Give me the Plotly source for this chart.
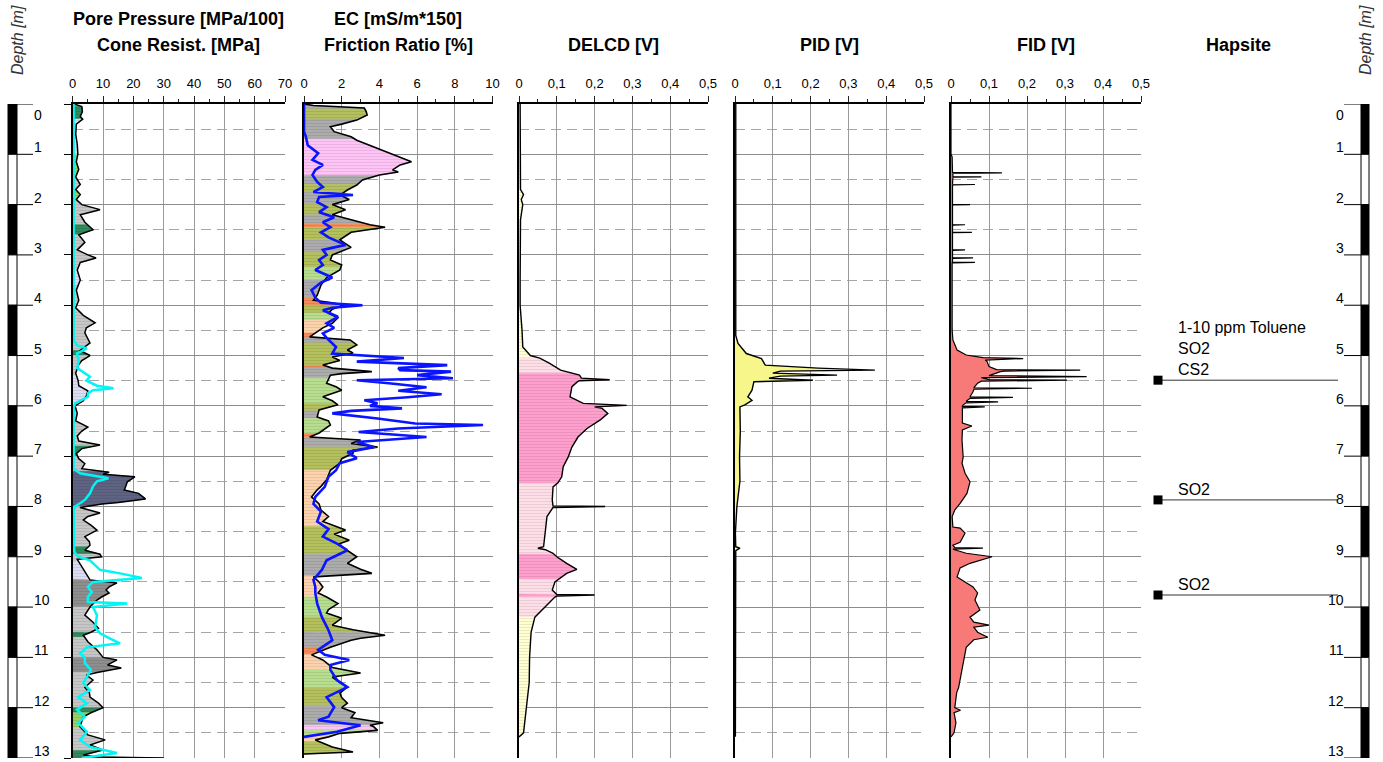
import numpy as np
import plotly.graph_objects as go

W, H = 1383, 762

# ---------------- DATA ----------------
depth_ticks = list(range(0, 14))

# Cone resistance [MPa]
qc_depth = [0.0, 0.05, 0.15, 0.25, 0.3, 0.4, 0.6, 0.8, 1.0, 1.15, 1.3, 1.45, 1.6, 1.7, 1.8, 1.9, 2.0, 2.1, 2.2, 2.35,
            2.5, 2.6, 2.75, 2.9, 3.0, 3.06, 3.15, 3.3, 3.5, 3.7, 3.9, 4.05, 4.2, 4.35, 4.45, 4.55, 4.75, 4.9, 5.0, 5.1,
            5.2, 5.35, 5.5, 5.6, 5.7, 5.8, 5.9, 6.0, 6.15, 6.3, 6.42, 6.5, 6.6, 6.7, 6.78, 6.85, 6.95, 7.05, 7.15, 7.25,
            7.32, 7.36, 7.41, 7.51, 7.6, 7.67, 7.74, 7.85, 7.92, 7.95, 8.02, 8.13, 8.2, 8.27, 8.37, 8.47, 8.6, 8.7, 8.77,
            8.87, 8.95, 9.0, 9.05, 9.46, 9.52, 9.6, 9.66, 9.72, 9.8, 9.86, 10.0, 10.16, 10.3, 10.42, 10.5, 10.56, 10.69,
            10.85, 11.0, 11.05, 11.15, 11.21, 11.3, 11.35, 11.45, 11.6, 11.7, 11.79, 11.91, 12.0, 12.1, 12.18, 12.38,
            12.54, 12.64, 12.74, 12.84, 12.94, 12.98, 13.0]
qc_val = [0.5, 3.0, 3.2, 2.5, 3.3, 1.2, 1.0, 1.5, 1.7, 1.2, 2.0, 1.0, 2.5, 1.0, 2.5, 1.2, 3.0, 9.0, 2.5, 4.0,
          6.7, 2.0, 4.0, 1.5, 5.0, 7.7, 2.5, 1.5, 2.5, 1.2, 2.0, 1.0, 3.5, 7.4, 4.5, 4.0, 5.7, 2.4, 5.7, 3.0,
          1.8, 1.0, 1.8, 2.0, 5.0, 4.5, 3.5, 0.8, 1.5, 1.0, 5.0, 3.0, 1.5, 2.0, 9.0, 3.0, 1.2, 2.0, 4.0, 3.0,
          12.0, 10.0, 20.5, 18.0, 17.5, 17.0, 21.7, 24.0, 15.0, 9.6, 2.4, 9.0, 5.0, 3.5, 6.0, 8.0, 4.0, 5.5, 5.7,
          4.0, 9.0, 9.5, 1.5, 5.7, 14.6, 12.0, 11.0, 12.0, 9.5, 8.0, 5.7, 4.0, 6.7, 8.5, 6.0, 3.5, 5.0,
          8.0, 10.0, 14.6, 11.5, 16.0, 8.0, 4.5, 6.7, 4.0, 5.5, 5.7, 8.5, 10.0, 6.0, 3.5, 2.4,
          5.0, 10.7, 5.7, 10.0, 3.5, 8.0, 30.0]

# Pore pressure [MPa/100]
u_depth = [0.0, 4.7, 4.8, 4.86, 4.96, 5.1, 5.25, 5.35, 5.42, 5.5, 5.6, 5.65, 5.69, 5.75, 5.82, 5.88, 5.95, 6.05,
           7.25, 7.34, 7.44, 7.5, 7.6, 7.74, 7.87, 8.0, 8.1, 8.9, 9.0, 9.07, 9.26, 9.33, 9.42, 9.5, 9.6, 9.7, 9.8,
           9.9, 9.93, 10.0, 10.16, 10.4, 10.52, 10.62, 10.72, 10.8, 10.92, 11.0, 11.11, 11.25, 11.39, 11.51, 11.65,
           11.79, 11.91, 12.04, 12.18, 12.3, 12.48, 12.64, 12.78, 12.9, 13.0]
u_val = [0.3, 0.3, 1.5, 4.7, 1.4, 2.0, 1.5, 4.0, 5.7, 4.5, 8.0, 13.4, 6.7, 5.0, 5.0, 3.0, 0.8, 0.3,
         0.3, 2.4, 11.8, 8.0, 6.7, 5.7, 4.0, 0.8, 0.3, 0.5, 1.8, 5.7, 9.0, 15.6, 22.8, 6.7, 5.0, 6.3, 5.0,
         5.0, 18.0, 6.7, 8.0, 7.4, 9.0, 12.2, 15.6, 4.7, 2.4, 4.0, 4.0, 6.0, 4.7, 3.5, 5.7,
         1.8, 4.7, 1.4, 4.0, 1.8, 4.7, 2.4, 5.7, 14.6, 3.0]

# Friction ratio [%]
fr_depth = [0.0, 0.03, 0.08, 0.15, 0.22, 0.32, 0.4, 0.45, 0.55, 0.65, 0.72, 0.85, 0.98, 1.05, 1.15, 1.21, 1.31,
            1.35, 1.41, 1.51, 1.61, 1.71, 1.81, 1.9, 2.0, 2.1, 2.2, 2.3, 2.4, 2.45, 2.55, 2.7, 2.85, 3.0, 3.1, 3.2,
            3.3, 3.45, 3.6, 3.8, 3.9, 3.95, 4.0, 4.08, 4.16, 4.25, 4.36, 4.45, 4.53, 4.63, 4.69, 4.79, 4.89, 4.95,
            5.03, 5.1, 5.19, 5.25, 5.32, 5.36, 5.39, 5.55, 5.62, 5.69, 5.82, 5.9, 5.98, 6.08, 6.22, 6.3, 6.38, 6.54,
            6.62, 6.68, 6.75, 6.82, 6.88, 6.94, 7.05, 7.14, 7.28, 7.47, 7.6, 7.67, 7.81, 7.95, 8.07, 8.2, 8.3, 8.4,
            8.47, 8.55, 8.67, 8.75, 8.87, 9.0, 9.13, 9.25, 9.33, 9.38, 9.4, 9.5, 9.6, 9.72, 9.8, 9.93, 10.05, 10.12,
            10.22, 10.36, 10.45, 10.56, 10.62, 10.66, 10.8, 10.95, 11.05, 11.2, 11.31, 11.39, 11.5, 11.59, 11.71,
            11.8, 11.91, 12.0, 12.1, 12.2, 12.25, 12.3, 12.35, 12.38, 12.45, 12.51, 12.58, 12.64, 12.78, 12.88, 12.92]
fr_val = [0.0, 0.5, 3.2, 3.3, 3.35, 2.8, 2.0, 1.4, 1.6, 2.5, 2.8, 3.7, 4.6, 5.1, 5.7, 5.1, 4.7,
          5.0, 4.0, 3.1, 2.8, 2.3, 1.9, 2.4, 1.5, 2.2, 1.5, 2.5, 3.5, 4.3, 2.5, 1.9, 2.5, 1.5, 1.4, 2.0,
          1.9, 1.2, 0.9, 0.7, 0.5, 1.5, 2.1, 1.5, 1.3, 1.8, 1.5, 1.0, 0.7, 0.3, 2.45, 2.8, 2.3, 2.6,
          1.5, 1.9, 1.0, 1.5, 3.6, 2.0, 1.4, 1.2, 1.7, 2.0, 1.0, 1.5, 1.8, 0.8, 0.7, 1.3, 1.4, 0.8,
          0.3, 3.0, 2.5, 3.9, 2.6, 2.6, 2.0, 1.9, 1.4, 1.2, 0.9, 0.7, 0.4, 0.8, 0.9, 1.3, 1.0, 1.7,
          2.2, 1.6, 2.4, 1.8, 2.3, 2.8, 2.3, 3.0, 3.6, 1.0, 0.5, 0.8, 1.0, 0.75, 1.2, 1.8, 1.3, 1.2,
          2.0, 1.5, 2.6, 4.3, 3.0, 2.5, 1.4, 0.4, 1.0, 1.5, 3.0, 1.5, 1.9, 2.3, 1.9,
          2.0, 2.3, 2.0, 2.7, 2.5, 3.4, 4.2, 3.5, 3.7, 3.9, 1.9, 1.3, 0.6, 1.5, 2.6, 0.0]

# EC [mS/m*150]
ec_depth = [0.0, 0.55, 0.65, 0.82, 0.98, 1.11, 1.21, 1.31, 1.41, 1.55, 1.65, 1.75, 1.81, 1.85, 1.95, 2.05, 2.15,
            2.25, 2.35, 2.45, 2.55, 2.65, 2.8, 2.9, 3.0, 3.1, 3.2, 3.3, 3.45, 3.55, 3.7, 3.85, 3.95, 4.0, 4.05, 4.1,
            4.23, 4.36, 4.45, 4.56, 4.65, 4.73, 4.83, 4.96, 5.05, 5.12, 5.19, 5.25, 5.29, 5.32, 5.39, 5.45, 5.49,
            5.55, 5.63, 5.7, 5.77, 5.83, 5.89, 5.95, 6.0, 6.05, 6.1, 6.15, 6.25, 6.35, 6.38, 6.45, 6.52, 6.62, 6.72,
            6.82, 6.92, 7.04, 7.14, 7.28, 7.41, 7.61, 7.81, 7.95, 8.1, 8.3, 8.45, 8.6, 8.75, 8.87, 9.0, 9.07, 9.26,
            9.46, 9.6, 9.72, 9.93, 10.2, 10.46, 10.66, 10.85, 10.95, 11.05, 11.15, 11.25, 11.45, 11.59, 11.79,
            11.99, 12.18, 12.25, 12.35, 12.48, 12.52, 12.58]
ec_val = [0.0, 0.0, 0.1, 0.2, 0.75, 0.45, 1.0, 0.6, 0.45, 0.7, 1.0, 0.5, 2.6, 0.8, 0.7, 1.2, 0.8,
          1.6, 1.0, 1.4, 0.9, 1.3, 2.2, 1.0, 1.2, 0.8, 1.0, 0.6, 1.5, 0.9, 0.4, 0.6, 0.9, 3.1, 1.5, 1.0,
          1.8, 1.2, 1.6, 1.0, 1.2, 1.4, 1.7, 1.5, 5.3, 2.8, 7.6, 5.0, 5.1, 7.8, 6.0, 7.9, 2.8,
          4.5, 6.5, 5.0, 7.3, 5.5, 3.2, 3.9, 3.5, 5.2, 2.5, 1.5, 3.9, 5.9, 9.5, 5.0, 2.9, 6.5, 2.8,
          3.7, 2.3, 2.8, 1.9, 1.7, 1.3, 1.1, 0.6, 0.5, 0.9, 0.7, 1.3, 1.0, 1.8, 2.3, 1.6, 1.2, 0.95,
          0.5, 0.6, 0.6, 0.7, 0.95, 1.3, 1.5, 0.75, 1.1, 2.4, 1.4, 1.4, 1.75, 2.3, 1.2,
          1.6, 1.3, 0.75, 3.0, 1.75, 1.0, 0.0]

# DELCD [V]
delcd_depth = [0.0, 1.7, 1.8, 1.9, 2.0, 2.3, 3.5, 4.0, 4.5, 4.83, 5.0, 5.05, 5.15, 5.29, 5.39, 5.45, 5.48, 5.5,
               5.52, 5.62, 5.82, 5.95, 5.99, 6.02, 6.05, 6.15, 6.28, 6.45, 6.62, 6.82, 7.02, 7.21, 7.41, 7.53, 7.61,
               7.87, 7.99, 8.0, 8.02, 8.2, 8.47, 8.8, 8.83, 8.86, 8.93, 9.0, 9.13, 9.25, 9.33, 9.5, 9.66, 9.75,
               9.76, 9.78, 9.8, 10.06, 10.2, 10.5, 11.0, 11.5, 12.0, 12.3, 12.5, 12.58]
delcd_val = [0.003, 0.004, 0.012, 0.006, 0.01, 0.004, 0.003, 0.003, 0.008, 0.01, 0.03, 0.055, 0.08, 0.11, 0.16,
             0.165, 0.24, 0.16, 0.155, 0.14, 0.135, 0.17, 0.285, 0.2, 0.22, 0.235, 0.215, 0.18, 0.156, 0.14, 0.13,
             0.117, 0.113, 0.103, 0.09, 0.088, 0.09, 0.228, 0.09, 0.074, 0.07, 0.065, 0.05, 0.07, 0.09, 0.1, 0.126,
             0.153, 0.126, 0.095, 0.088, 0.1, 0.2, 0.1, 0.095, 0.06, 0.042, 0.032, 0.028, 0.027, 0.02, 0.014,
             0.012, 0.0]

# PID [V]
pid_depth = [0.0, 4.6, 4.76, 4.96, 5.06, 5.19, 5.25, 5.29, 5.31, 5.35, 5.39, 5.41, 5.45, 5.49, 5.52, 5.69, 5.82,
             5.89, 5.98, 6.02, 6.5, 7.0, 7.5, 8.0, 8.53, 8.8, 8.83, 8.88, 12.58]
pid_val = [0.002, 0.002, 0.008, 0.03, 0.07, 0.08, 0.22, 0.37, 0.12, 0.1, 0.27, 0.12, 0.09, 0.206, 0.05, 0.045,
           0.034, 0.045, 0.026, 0.013, 0.014, 0.012, 0.013, 0.005, 0.001, 0.002, 0.013, 0.002, 0.001]

# FID [V]
fid_depth = [0.0, 1.0, 1.05, 1.36, 1.37, 1.378, 1.445, 1.45, 1.458, 1.595, 1.6, 1.608, 1.995, 2.0, 2.008, 2.395,
             2.4, 2.408, 2.545, 2.55, 2.558, 2.895, 2.9, 2.908, 3.055, 3.06, 3.068, 3.145, 3.15, 3.158, 4.0, 4.49,
             4.69, 4.89, 4.99, 5.04, 5.06, 5.09, 5.12, 5.22, 5.28, 5.29, 5.31, 5.32, 5.4, 5.42, 5.44, 5.48, 5.49,
             5.51, 5.55, 5.64, 5.65, 5.67, 5.72, 5.82, 5.83, 5.85, 5.91, 5.92, 5.94, 5.98, 6.01, 6.02, 6.04, 6.08,
             6.34, 6.4, 6.48, 6.68, 7.02, 7.14, 7.34, 7.51, 7.74, 7.94, 8.07, 8.2, 8.41, 8.43, 8.53, 8.71, 8.77,
             8.82, 8.83, 8.85, 8.93, 9.0, 9.13, 9.22, 9.4, 9.5, 9.6, 9.72, 9.86, 10.06, 10.2, 10.3, 10.36, 10.4,
             10.5, 10.6, 10.65, 10.8, 11.0, 11.3, 11.6, 11.7, 12.0, 12.05, 12.1, 12.3, 12.5, 12.58]
fid_val = [0.0, 0.0, 0.003, 0.004, 0.134, 0.005, 0.005, 0.08, 0.005, 0.004, 0.063, 0.004, 0.004, 0.05, 0.004, 0.004,
           0.037, 0.004, 0.004, 0.055, 0.004, 0.004, 0.037, 0.004, 0.004, 0.058, 0.004, 0.004, 0.063, 0.003, 0.003,
           0.003, 0.005, 0.016, 0.04, 0.084, 0.19, 0.09, 0.095, 0.1, 0.12, 0.34, 0.14, 0.13, 0.1, 0.357, 0.08,
           0.1, 0.305, 0.08, 0.07, 0.06, 0.213, 0.06, 0.058, 0.05, 0.163, 0.05, 0.04, 0.124, 0.04, 0.032, 0.03,
           0.089, 0.03, 0.03, 0.03, 0.055, 0.03, 0.029, 0.032, 0.029, 0.037, 0.05, 0.042, 0.024, 0.01, 0.003,
           0.005, 0.024, 0.037, 0.024, 0.005, 0.01, 0.084, 0.005, 0.04, 0.108, 0.05, 0.024, 0.016, 0.037, 0.058,
           0.07, 0.063, 0.076, 0.05, 0.06, 0.1, 0.06, 0.07, 0.097, 0.06, 0.04, 0.035, 0.028, 0.02, 0.015, 0.01,
           0.025, 0.008, 0.013, 0.008, 0.0]

# Soil behaviour classes (top, bottom, class) for the cone track and friction track
qc_classes = [(0.0, 0.05, "gray"), (0.05, 0.3, "dkgreen"), (0.3, 1.0, "lavender"), (1.0, 1.5, "ltgreen"),
              (1.5, 1.7, "gray"), (1.7, 1.9, "ltgreen"), (1.9, 2.4, "gray"), (2.4, 2.6, "dkgreen"),
              (2.6, 3.3, "gray"), (3.3, 3.6, "lavender"), (3.6, 4.9, "gray"), (4.9, 5.0, "dkgreen"),
              (5.0, 5.4, "gray"), (5.4, 6.0, "lavender"), (6.0, 6.8, "gray"), (6.8, 7.0, "dkgreen"),
              (7.0, 7.3, "gray"), (7.3, 8.0, "slate"), (8.0, 8.8, "gray"), (8.8, 8.95, "dkgreen"),
              (8.95, 9.1, "gray"), (9.1, 9.45, "lavender"), (9.45, 10.0, "dkgray"), (10.0, 10.5, "gray"),
              (10.5, 10.6, "dkgreen"), (10.6, 11.0, "gray"), (11.0, 11.3, "dkgray"), (11.3, 12.0, "gray"),
              (12.0, 12.1, "dkgreen"), (12.1, 12.4, "ltgreen"), (12.4, 12.85, "gray"), (12.85, 13.0, "dkgreen")]

fr_classes = [(0.0, 0.1, "gray"), (0.1, 0.3, "olive"), (0.3, 0.7, "gray"), (0.7, 1.42, "pink"),
              (1.42, 1.6, "gray"), (1.6, 1.75, "olive"), (1.75, 2.0, "gray"), (2.0, 2.2, "olive"),
              (2.2, 2.38, "gray"), (2.38, 2.45, "orange"), (2.45, 2.7, "olive"), (2.7, 2.95, "gray"),
              (2.95, 3.25, "olive"), (3.25, 3.5, "ltgreen"), (3.5, 3.85, "gray"), (3.85, 4.0, "orange"),
              (4.0, 4.16, "olive"), (4.16, 4.3, "ltgreen"), (4.3, 4.55, "peach"), (4.55, 4.65, "orange"),
              (4.65, 4.75, "gray"), (4.75, 5.2, "olive"), (5.2, 5.25, "orange"), (5.25, 5.45, "gray"),
              (5.45, 5.95, "ltgreen"), (5.95, 6.1, "olive"), (6.1, 6.25, "gray"), (6.25, 6.55, "ltgreen"),
              (6.55, 6.63, "orange"), (6.63, 6.82, "gray"), (6.82, 7.28, "olive"), (7.28, 8.4, "peach"),
              (8.4, 8.95, "olive"), (8.95, 9.38, "gray"), (9.38, 9.8, "peach"), (9.8, 10.2, "ltgreen"),
              (10.2, 10.5, "olive"), (10.5, 10.8, "gray"), (10.8, 10.95, "orange"), (10.95, 11.25, "peach"),
              (11.25, 11.6, "ltgreen"), (11.6, 11.95, "olive"), (11.95, 12.35, "gray"), (12.35, 12.45, "pink"),
              (12.45, 12.55, "ltgreen"), (12.55, 12.67, "peach"), (12.67, 12.92, "olive")]

delcd_classes = [(0.0, 5.05, "ltyellow"), (5.05, 5.35, "ltpink"), (5.35, 7.55, "hotpink"), (7.55, 8.95, "ltpink"),
                 (8.95, 9.45, "hotpink"), (9.45, 9.74, "ltpink"), (9.74, 9.8, "hotpink"), (9.8, 10.2, "ltpink"),
                 (10.2, 12.58, "ltyellow")]

# Hapsite findings
hapsite_depth = [5.49, 7.87, 9.76]
hapsite_text = ["1-10 ppm Toluene<br>SO2<br>CS2", "SO2", "SO2"]

# ---------------- STYLE ----------------
COL = {"gray": "#c6c6c6", "dkgreen": "#2f8a5c", "lavender": "#dcdcf2", "ltgreen": "#98d062", "slate": "#5f6382",
       "dkgray": "#8e8e8e", "olive": "#b4c05c", "pink": "#ffc4f6", "orange": "#f68c5c", "peach": "#fdd3ad",
       "ltyellow": "#ffffd2", "ltpink": "#ffdfe7", "hotpink": "#ff9fcd"}
COL2 = dict(COL, gray="#acacac", ltgreen="#b6de8e")
FONT = "Liberation Sans, Arial, Helvetica, sans-serif"
Y_TOP, Y_BOT = 104, 758
ydom = [1 - Y_BOT / H, 1 - Y_TOP / H]


def darker(hexcol, f=0.82):
    r, g, b = (int(hexcol[i:i + 2], 16) for i in (1, 3, 5))
    return "#%02x%02x%02x" % (int(r * f), int(g * f), int(b * f))


tracks = [
    dict(x0=72.7, x1=285.0, rng=[0, 70], dtick=10, minor=5, titles=["Pore Pressure [MPa/100]", "Cone Resist. [MPa]"]),
    dict(x0=304.0, x1=492.5, rng=[0, 10], dtick=2, minor=1, titles=["EC [mS/m*150]", "Friction Ratio [%]"]),
    dict(x0=519.0, x1=708.0, rng=[0, 0.5], dtick=0.1, minor=0.05, titles=["", "DELCD [V]"]),
    dict(x0=735.0, x1=924.0, rng=[0, 0.5], dtick=0.1, minor=0.05, titles=["", "PID [V]"]),
    dict(x0=951.0, x1=1141.0, rng=[0, 0.5], dtick=0.1, minor=0.05, titles=["", "FID [V]"]),
]

fig = go.Figure()


def add_class_fill(depths, vals, classes, palette, ax):
    d = np.asarray(depths, float)
    v = np.asarray(vals, float)
    for top, bot, cls in classes:
        inside = (d > top) & (d < bot)
        dd = np.concatenate([[top], d[inside], [bot]])
        vv = np.concatenate([[np.interp(top, d, v)], v[inside], [np.interp(bot, d, v)]])
        xs = np.concatenate([[0], vv, [0]])
        ys = np.concatenate([[top], dd, [bot]])
        c = palette[cls]
        fig.add_trace(go.Scatter(x=xs, y=ys, mode="lines", fill="toself", fillcolor=c,
                                 fillpattern=dict(shape="-", fgcolor=darker(c), bgcolor=c, size=3, solidity=0.3),
                                 line=dict(width=0.6, color=c), hoverinfo="skip",
                                 xaxis="x" + ax, yaxis="y" + ax, showlegend=False))


def add_line(depths, vals, color, width, ax, fill=None):
    fig.add_trace(go.Scatter(x=vals, y=depths, mode="lines", line=dict(color=color, width=width),
                             fill="tozerox" if fill else None, fillcolor=fill,
                             xaxis="x" + ax, yaxis="y" + ax, showlegend=False, hoverinfo="skip"))


# Track 1
add_class_fill(qc_depth, qc_val, qc_classes, COL, "")
add_line(qc_depth, qc_val, "black", 1.5, "")
add_line(u_depth, u_val, "#00f5f5", 2.5, "")
# Track 2
add_class_fill(fr_depth, fr_val, fr_classes, COL2, "2")
add_line(fr_depth, fr_val, "black", 1.6, "2")
add_line(ec_depth, ec_val, "#0a14ff", 2.6, "2")
# Track 3
add_class_fill(delcd_depth, delcd_val, delcd_classes, COL, "3")
add_line(delcd_depth, delcd_val, "black", 1.4, "3")
# Track 4
add_line(pid_depth, pid_val, "black", 1.4, "4", fill="#f6f68a")
# Track 5
add_line(fid_depth, fid_val, "black", 1.2, "5", fill="#f77a78")

# Hapsite track
HX0, HX1 = 1150, 1345
hx = lambda p: (p - HX0) / (HX1 - HX0)
for d, t in zip(hapsite_depth, hapsite_text):
    fig.add_trace(go.Scatter(x=[hx(1158), hx(1338)], y=[d, d], mode="lines", line=dict(color="#333", width=1),
                             xaxis="x6", yaxis="y6", showlegend=False, hoverinfo="skip"))
    fig.add_annotation(x=hx(1176), y=d, xref="x6", yref="y6", text=t, showarrow=False, xanchor="left",
                       yanchor="bottom", align="left", yshift=0, font=dict(family=FONT, size=16, color="black"))
fig.add_trace(go.Scatter(x=[hx(1158)] * len(hapsite_depth), y=hapsite_depth, mode="markers",
                         marker=dict(symbol="square", size=9, color="black"),
                         xaxis="x6", yaxis="y6", showlegend=False, hoverinfo="skip"))

layout = dict(width=W, height=H, margin=dict(l=0, r=0, t=0, b=0, pad=0, autoexpand=False),
              paper_bgcolor="white", plot_bgcolor="white",
              showlegend=False, separators=", ", font=dict(family=FONT, color="black"))
for i, t in enumerate(tracks, start=1):
    sfx = "" if i == 1 else str(i)
    layout["xaxis" + sfx] = dict(
        domain=[t["x0"] / W, t["x1"] / W], range=t["rng"], side="top", anchor="y" + sfx,
        tickmode="linear", tick0=0, dtick=t["dtick"], ticks="outside", ticklen=6, tickwidth=1, tickcolor="#222",
        ticklabelstandoff=3, automargin=False,
        showline=True, linecolor="black", linewidth=2, showgrid=True, gridcolor="#9a9a9a", gridwidth=1,
        zeroline=False, tickfont=dict(family=FONT, size=13, color="black"),
        minor=dict(tick0=0, dtick=t["minor"], ticks="outside", ticklen=3, tickcolor="#222", showgrid=False))
    layout["yaxis" + sfx] = dict(
        domain=ydom, range=[13, 0], anchor="x" + sfx, showticklabels=False, tickmode="linear", tick0=0, dtick=1,
        automargin=False,
        showgrid=True, gridcolor="#8c8c8c", gridwidth=1, zeroline=False, showline=True, linecolor="black",
        linewidth=1.5, ticks="outside" if i == 1 else "", ticklen=7, tickcolor="black",
        minor=dict(tick0=0, dtick=0.5, showgrid=True, griddash="10px,6px", gridcolor="#a6a6a6", gridwidth=1))
    if i > 1:
        layout["yaxis" + sfx]["matches"] = "y"
    cx = (t["x0"] + t["x1"]) / 2 / W
    for line_y, txt in zip([19, 45], t["titles"]):
        if txt:
            fig.add_annotation(x=cx, y=1 - line_y / H, xref="paper", yref="paper", text="<b>" + txt + "</b>",
                               showarrow=False, xanchor="center", yanchor="middle",
                               font=dict(family=FONT, size=18, color="black"))
layout["xaxis6"] = dict(domain=[HX0 / W, HX1 / W], range=[0, 1], anchor="y6", visible=False, automargin=False)
layout["yaxis6"] = dict(domain=ydom, range=[13, 0], anchor="x6", visible=False, automargin=False)
fig.update_layout(**layout)

fig.add_annotation(x=1238 / W, y=1 - 45 / H, xref="paper", yref="paper", text="<b>Hapsite</b>", showarrow=False,
                   xanchor="center", yanchor="middle", font=dict(family=FONT, size=18, color="black"))

# Depth rulers
shapes = []
for k in depth_ticks[:-1]:
    for bx0, bx1 in [(8, 17), (1361, 1369)]:
        shapes.append(dict(type="rect", xref="paper", yref="y", x0=bx0 / W, x1=bx1 / W, y0=k, y1=k + 1,
                           fillcolor="black" if k % 2 == 0 else "white", line=dict(color="black", width=1)))
for k in depth_ticks:
    shapes.append(dict(type="line", xref="paper", yref="y", x0=17 / W, x1=33 / W, y0=k, y1=k,
                       line=dict(color="black", width=1)))
    shapes.append(dict(type="line", xref="paper", yref="y", x0=1344 / W, x1=1361 / W, y0=k, y1=k,
                       line=dict(color="black", width=1)))
    top = k == 0
    fig.add_annotation(x=32 / W, y=k, xref="paper", yref="y", text=str(k), showarrow=False, xanchor="left",
                       yanchor="top" if top else "bottom", yshift=-1 if top else -3,
                       font=dict(family=FONT, size=14, color="black"))
    fig.add_annotation(x=1346 / W, y=k, xref="paper", yref="y", text=str(k), showarrow=False, xanchor="right",
                       yanchor="top" if top else "bottom", yshift=-1 if top else -3,
                       font=dict(family=FONT, size=14, color="black"))
fig.update_layout(shapes=shapes)

for xpix in [17, 1365]:
    fig.add_annotation(x=xpix / W, y=1 - 40 / H, xref="paper", yref="paper", text="<i>Depth [m]</i>",
                       showarrow=False, textangle=-90, xanchor="center", yanchor="middle",
                       font=dict(family=FONT, size=16, color="#333"))

fig.write_html("out.html", config={"displayModeBar": False},
               post_script="document.body.style.margin='0px';document.body.style.overflow='hidden';")
